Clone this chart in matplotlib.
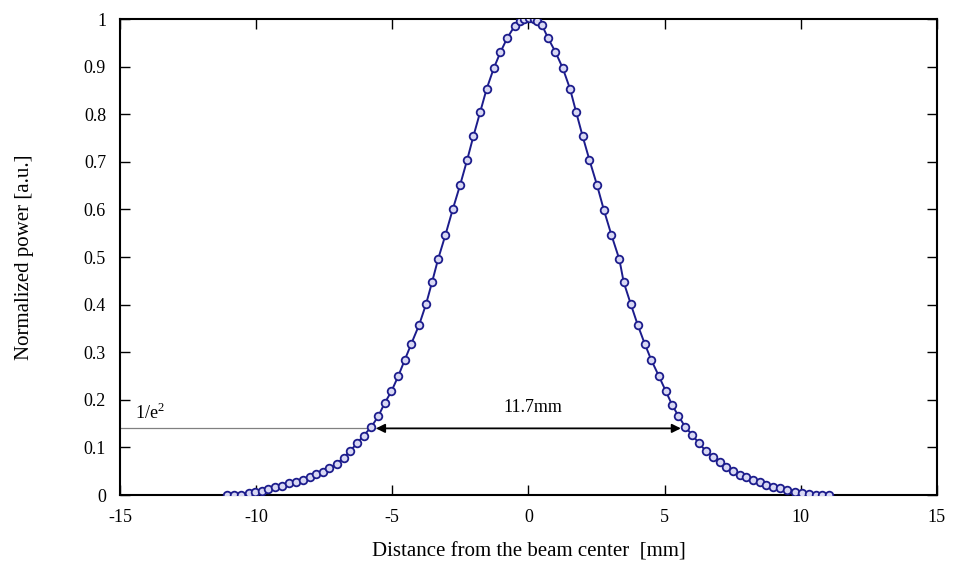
import matplotlib
matplotlib.use("Agg")
import matplotlib.pyplot as plt

plt.rcParams['font.family'] = ['Liberation Serif', 'DejaVu Serif']
plt.rcParams['axes.unicode_minus'] = False

distance_mm = [
    -11.08, -10.81, -10.54, -10.28, -10.03, -9.79, -9.55, -9.29, -9.04, -8.78,
    -8.53, -8.29, -8.04, -7.80, -7.56, -7.31, -7.04, -6.79, -6.54, -6.29,
    -6.05, -5.77, -5.51, -5.28, -5.03, -4.78, -4.54, -4.30, -4.01, -3.76,
    -3.54, -3.32, -3.05, -2.78, -2.51, -2.25, -2.02, -1.77, -1.53, -1.27,
    -1.03, -0.78, -0.51, -0.30, -0.15, 0.01, 0.19, 0.33, 0.50, 0.72,
    0.99, 1.26, 1.53, 1.75, 1.99, 2.24, 2.52, 2.77, 3.05, 3.34,
    3.50, 3.76, 4.01, 4.27, 4.51, 4.79, 5.04, 5.28, 5.51, 5.76,
    6.02, 6.26, 6.51, 6.78, 7.02, 7.27, 7.51, 7.76, 8.00, 8.25,
    8.49, 8.74, 8.98, 9.23, 9.50, 9.78, 10.06, 10.31, 10.55, 10.80,
    11.04,
]
power = [
    0.000, 0.000, 0.001, 0.004, 0.006, 0.009, 0.012, 0.016, 0.020, 0.025,
    0.028, 0.032, 0.037, 0.044, 0.049, 0.056, 0.066, 0.078, 0.093, 0.109,
    0.125, 0.143, 0.166, 0.193, 0.218, 0.250, 0.284, 0.318, 0.358, 0.401,
    0.447, 0.495, 0.546, 0.600, 0.651, 0.704, 0.754, 0.805, 0.854, 0.897,
    0.930, 0.960, 0.985, 0.996, 1.000, 1.003, 1.000, 0.996, 0.987, 0.960,
    0.931, 0.897, 0.853, 0.805, 0.754, 0.704, 0.651, 0.599, 0.546, 0.495,
    0.447, 0.401, 0.358, 0.318, 0.284, 0.250, 0.219, 0.189, 0.166, 0.143,
    0.126, 0.109, 0.093, 0.080, 0.069, 0.058, 0.050, 0.043, 0.037, 0.032,
    0.027, 0.022, 0.017, 0.014, 0.011, 0.007, 0.005, 0.002, 0.001, 0.001,
    0.000,
]

level = 0.14          # 1/e^2 level
arrow_left = -5.6
arrow_right = 5.6

fig = plt.figure(figsize=(9.54, 5.64), dpi=100)
ax = fig.add_axes([0.1258, 0.1223, 0.8562, 0.8440])

ax.plot(distance_mm, power, color='#1c1c8c', lw=1.4, marker='o', ms=5.5,
        mfc='#d8d8f4', mec='#1c1c8c', mew=1.3, zorder=3)

# 1/e^2 reference line and width arrow
ax.plot([-15, arrow_left], [level, level], color='#808080', lw=0.9)
ax.annotate('', xy=(arrow_left, level), xytext=(arrow_right, level),
            arrowprops=dict(arrowstyle='<|-|>', color='black', lw=1.3,
                            mutation_scale=13, shrinkA=0, shrinkB=0))
ax.text(0.15, 0.165, '11.7mm', ha='center', va='bottom', fontsize=13)
ax.text(-13.9, 0.152, '1/e$^{\\mathregular{2}}$', ha='center', va='bottom', fontsize=13)

ax.set_xlim(-15, 15)
ax.set_ylim(0, 1)
ax.set_xticks([-15, -10, -5, 0, 5, 10, 15])
ax.set_yticks([0, 0.1, 0.2, 0.3, 0.4, 0.5, 0.6, 0.7, 0.8, 0.9, 1])
ax.set_yticklabels(['0', '0.1', '0.2', '0.3', '0.4', '0.5', '0.6', '0.7', '0.8', '0.9', '1'])
ax.tick_params(direction='in', length=7, width=1, top=True, right=True,
               labelsize=13, pad=10)
for s in ax.spines.values():
    s.set_linewidth(1.5)

ax.set_xlabel('Distance from the beam center  [mm]', fontsize=15, labelpad=12)
ax.set_ylabel('Normalized power [a.u.]', fontsize=15, labelpad=36)

fig.savefig('out.png', dpi=100)
